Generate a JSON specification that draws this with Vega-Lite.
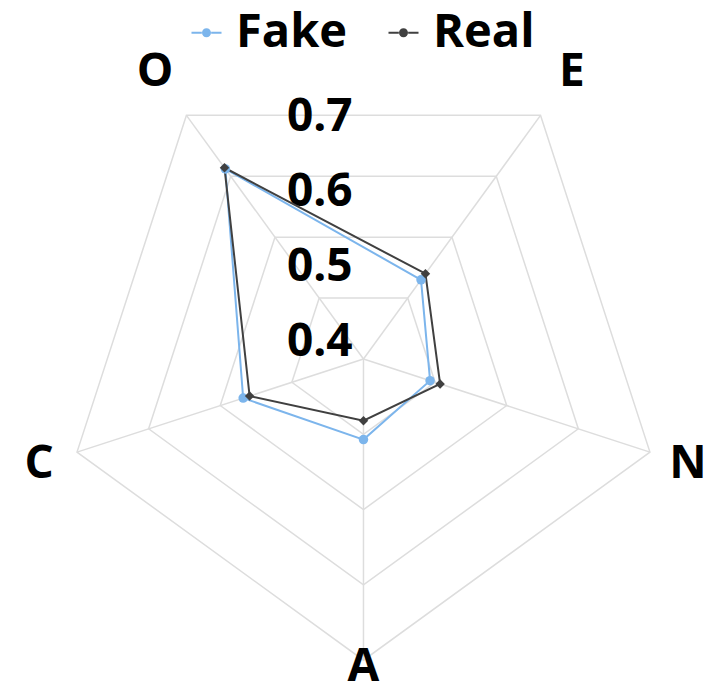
{
  "$schema": "https://vega.github.io/schema/vega-lite/v6.json",
  "width": 721,
  "height": 688,
  "padding": 0,
  "autosize": {"type": "none"},
  "background": "white",
  "config": {"view": {"stroke": null}, "font": "Open Sans"},
  "datasets": {
    "scores": [
      {"trait": "O", "k": 0, "series": "Fake", "value": 0.612},
      {"trait": "O", "k": 0, "series": "Real", "value": 0.614},
      {"trait": "E", "k": 1, "series": "Fake", "value": 0.430},
      {"trait": "E", "k": 1, "series": "Real", "value": 0.440},
      {"trait": "N", "k": 2, "series": "Fake", "value": 0.393},
      {"trait": "N", "k": 2, "series": "Real", "value": 0.407},
      {"trait": "A", "k": 3, "series": "Fake", "value": 0.407},
      {"trait": "A", "k": 3, "series": "Real", "value": 0.382},
      {"trait": "C", "k": 4, "series": "Fake", "value": 0.468},
      {"trait": "C", "k": 4, "series": "Real", "value": 0.459}
    ],
    "traits": [
      {"trait": "O", "k": 0},
      {"trait": "E", "k": 1},
      {"trait": "N", "k": 2},
      {"trait": "A", "k": 3},
      {"trait": "C", "k": 4}
    ],
    "rings": [
      {"level": 0.4, "k": [0, 1, 2, 3, 4]},
      {"level": 0.5, "k": [0, 1, 2, 3, 4]},
      {"level": 0.6, "k": [0, 1, 2, 3, 4]},
      {"level": 0.7, "k": [0, 1, 2, 3, 4]}
    ],
    "ticks": [
      {"level": 0.4, "label": "0.4"},
      {"level": 0.5, "label": "0.5"},
      {"level": 0.6, "label": "0.6"},
      {"level": 0.7, "label": "0.7"}
    ]
  },
  "layer": [
    {
      "data": {"name": "rings"},
      "transform": [
        {"flatten": ["k"]},
        {"calculate": "PI * (datum.k * 72 - 36) / 180", "as": "theta"},
        {"calculate": "(datum.level - 0.3) * 10", "as": "r"},
        {"calculate": "datum.r * sin(datum.theta)", "as": "px"},
        {"calculate": "datum.r * cos(datum.theta)", "as": "py"}
      ],
      "mark": {"type": "line", "interpolate": "linear-closed", "color": "#DDDDDD", "strokeWidth": 1.5},
      "encoding": {
        "x": {"field": "px", "type": "quantitative", "scale": {"domain": [-4.827, 4.748], "nice": false, "zero": false}, "axis": null},
        "y": {"field": "py", "type": "quantitative", "scale": {"domain": [-4.369, 4.768], "nice": false, "zero": false}, "axis": null},
        "detail": {"field": "level", "type": "nominal"},
        "order": {"field": "k", "type": "quantitative"}
      }
    },
    {
      "data": {"name": "traits"},
      "transform": [
        {"calculate": "PI * (datum.k * 72 - 36) / 180", "as": "theta"},
        {"calculate": "4 * sin(datum.theta)", "as": "px"},
        {"calculate": "4 * cos(datum.theta)", "as": "py"},
        {"calculate": "0", "as": "cx"},
        {"calculate": "0", "as": "cy"}
      ],
      "mark": {"type": "rule", "color": "#DDDDDD", "strokeWidth": 1.5},
      "encoding": {
        "x": {"field": "cx", "type": "quantitative"},
        "y": {"field": "cy", "type": "quantitative"},
        "x2": {"field": "px"},
        "y2": {"field": "py"}
      }
    },
    {
      "data": {"name": "ticks"},
      "transform": [
        {"calculate": "(datum.level - 0.3) * 10 - 0.78", "as": "py"},
        {"calculate": "-0.58", "as": "px"}
      ],
      "mark": {"type": "text", "fontSize": 46, "fontWeight": "bold", "color": "black", "align": "center", "baseline": "middle"},
      "encoding": {
        "x": {"field": "px", "type": "quantitative"},
        "y": {"field": "py", "type": "quantitative"},
        "text": {"field": "label", "type": "nominal"}
      }
    },
    {
      "data": {"name": "traits"},
      "transform": [
        {"calculate": "PI * (datum.k * 72 - 36) / 180", "as": "theta"},
        {"calculate": "datum.trait === 'A' ? 4.09 : (datum.k === 2 || datum.k === 4 ? 4.53 : 4.71)", "as": "lr"},
        {"calculate": "datum.lr * sin(datum.theta)", "as": "px"},
        {"calculate": "datum.lr * cos(datum.theta)", "as": "py"}
      ],
      "mark": {"type": "text", "fontSize": 46, "fontWeight": "bold", "color": "black", "align": "center", "baseline": "middle"},
      "encoding": {
        "x": {"field": "px", "type": "quantitative"},
        "y": {"field": "py", "type": "quantitative"},
        "text": {"field": "trait", "type": "nominal"}
      }
    },
    {
      "data": {"name": "scores"},
      "transform": [
        {"calculate": "PI * (datum.k * 72 - 36) / 180", "as": "theta"},
        {"calculate": "(datum.value - 0.3) * 10", "as": "r"},
        {"calculate": "datum.r * sin(datum.theta)", "as": "px"},
        {"calculate": "datum.r * cos(datum.theta)", "as": "py"}
      ],
      "mark": {"type": "line", "interpolate": "linear-closed", "strokeWidth": 2},
      "encoding": {
        "x": {"field": "px", "type": "quantitative"},
        "y": {"field": "py", "type": "quantitative"},
        "color": {"field": "series", "type": "nominal", "scale": {"domain": ["Fake", "Real"], "range": ["#7CB5EC", "#404040"]}},
        "order": {"field": "k", "type": "quantitative"}
      }
    },
    {
      "data": {"name": "scores"},
      "transform": [
        {"filter": "datum.series === 'Fake'"},
        {"calculate": "PI * (datum.k * 72 - 36) / 180", "as": "theta"},
        {"calculate": "(datum.value - 0.3) * 10", "as": "r"},
        {"calculate": "datum.r * sin(datum.theta)", "as": "px"},
        {"calculate": "datum.r * cos(datum.theta)", "as": "py"}
      ],
      "mark": {"type": "point", "shape": "circle", "filled": true, "opacity": 1, "size": 90},
      "encoding": {
        "x": {"field": "px", "type": "quantitative"},
        "y": {"field": "py", "type": "quantitative"},
        "color": {
          "field": "series", "type": "nominal",
          "legend": {
            "title": null,
            "orient": "none",
            "direction": "horizontal",
            "legendX": 183,
            "legendY": 9,
            "labelFontSize": 47,
            "labelFontWeight": "bold",
            "labelColor": "black",
            "labelFont": "Open Sans",
            "labelOffset": 6,
            "columnPadding": 32,
            "symbolSize": 900,
            "symbolStrokeWidth": 0,
            "symbolOpacity": 1,
            "symbolType": "M-1,-0.07H-0.31V0.07H-1Z M0.31,-0.07H1V0.07H0.31Z M0.3,0A0.3,0.3,0,1,1,-0.3,0A0.3,0.3,0,1,1,0.3,0Z"
          }
        }
      }
    },
    {
      "data": {"name": "scores"},
      "transform": [
        {"filter": "datum.series === 'Real'"},
        {"calculate": "PI * (datum.k * 72 - 36) / 180", "as": "theta"},
        {"calculate": "(datum.value - 0.3) * 10", "as": "r"},
        {"calculate": "datum.r * sin(datum.theta)", "as": "px"},
        {"calculate": "datum.r * cos(datum.theta)", "as": "py"}
      ],
      "mark": {"type": "point", "shape": "diamond", "filled": true, "opacity": 1, "size": 90},
      "encoding": {
        "x": {"field": "px", "type": "quantitative"},
        "y": {"field": "py", "type": "quantitative"},
        "color": {"field": "series", "type": "nominal"}
      }
    }
  ]
}
